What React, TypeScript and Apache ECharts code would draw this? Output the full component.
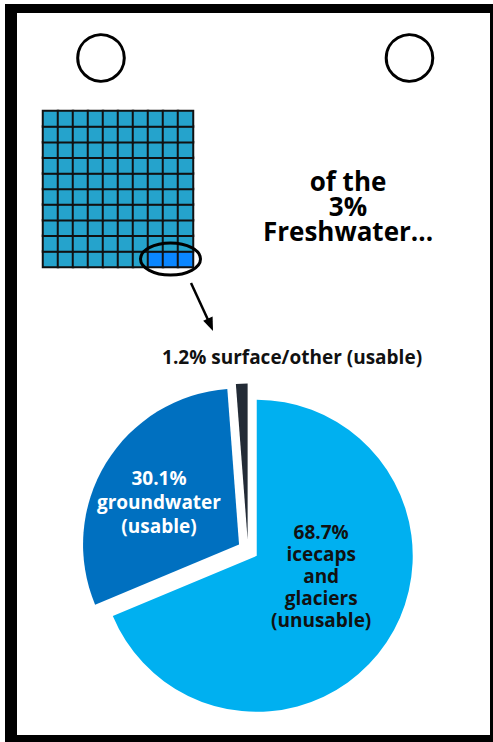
import React, { useEffect, useRef } from "react";
import * as echarts from "echarts";

// ---- data ----
const sliceNames = ["icecaps and glaciers (unusable)", "groundwater (usable)", "surface/other (usable)"];
const sliceValues = [68.7, 30.1, 1.2];
const sliceLabelLines = ["icecaps\nand\nglaciers\n(unusable)", "groundwater\n(usable)", "surface/other (usable)"];
const sliceColors = ["#00B0F0", "#0070C0", "#232B36"];
const sliceLabelColors = ["#111111", "#FFFFFF", "#111111"];

const waffleCols = [0, 1, 2, 3, 4, 5, 6, 7, 8, 9];
const waffleRows = [0, 1, 2, 3, 4, 5, 6, 7, 8, 9];
const freshwaterCells = [
  [7, 0],
  [8, 0],
  [9, 0],
];

const titleLines = ["of the", "3%", "Freshwater..."];

const FONT = "'Open Sans', 'DejaVu Sans', sans-serif";

export default function App() {
  const ref = useRef<HTMLDivElement>(null);

  useEffect(() => {
    document.body.style.margin = "0";
    const chart = echarts.init(ref.current!, undefined, { renderer: "svg" });

    const waffleData: any[] = [];
    waffleRows.forEach((r) => {
      waffleCols.forEach((c) => {
        const isFresh = freshwaterCells.some((p) => p[0] === c && p[1] === r);
        waffleData.push([c, r, isFresh ? 1 : 0]);
      });
    });

    const pieData = sliceValues.map((v, i) => ({
      name: sliceNames[i],
      value: v,
      selected: true,
      itemStyle: { color: sliceColors[i] },
      label: {
        show: true,
        position: "inside",
        color: sliceLabelColors[i],
        formatter: i === 2 ? `${v}% ${sliceLabelLines[i]}` : `${v}%\n${sliceLabelLines[i]}`,
        fontFamily: FONT,
        fontWeight: "bold",
        fontSize: 19,
        lineHeight: i === 0 ? 22 : 24,
      },
    }));

    const option: any = {
      animation: false,
      backgroundColor: "#ffffff",
      grid: { left: 43, top: 111, width: 150, height: 156 },
      xAxis: { type: "category", data: waffleCols.map(String), show: false },
      yAxis: { type: "category", data: waffleRows.map(String), show: false },
      visualMap: {
        show: false,
        type: "piecewise",
        seriesIndex: 0,
        dimension: 2,
        pieces: [
          { value: 0, color: "#25A3CC" },
          { value: 1, color: "#0A86FF" },
        ],
      },
      graphic: [
        { type: "rect", z: -10, shape: { x: 5, y: 4, width: 488, height: 738 }, style: { fill: "#000" } },
        { type: "rect", z: -9, shape: { x: 17, y: 13, width: 473, height: 722 }, style: { fill: "#fff" } },
        { type: "circle", z: 5, shape: { cx: 101, cy: 58, r: 23.3 }, style: { fill: "none", stroke: "#000", lineWidth: 3 } },
        { type: "circle", z: 5, shape: { cx: 409.5, cy: 58, r: 23.3 }, style: { fill: "none", stroke: "#000", lineWidth: 3 } },
        { type: "ellipse", z: 100, shape: { cx: 170.5, cy: 259, rx: 30, ry: 16 }, style: { fill: "none", stroke: "#000", lineWidth: 3 } },
        { type: "line", z: 100, shape: { x1: 191, y1: 283, x2: 209, y2: 322 }, style: { stroke: "#000", lineWidth: 2.5 } },
        {
          type: "polygon",
          z: 100,
          shape: { points: [[213, 331], [212.6, 316.5], [203.2, 320.8]] },
          style: { fill: "#000" },
        },
        {
          type: "text",
          z: 100,
          x: 348,
          y: 206,
          style: {
            text: titleLines.join("\n"),
            fontFamily: FONT,
            fontWeight: "bold",
            fontSize: 26,
            lineHeight: 25,
            fill: "#000",
            align: "center",
            verticalAlign: "middle",
          },
        },
      ],
      series: [
        {
          type: "heatmap",
          data: waffleData,
          itemStyle: { borderColor: "#111", borderWidth: 2 },
          emphasis: { disabled: true },
          silent: true,
        },
        {
          type: "pie",
          center: [248, 550],
          radius: 156,
          startAngle: 90,
          clockwise: true,
          selectedMode: "multiple",
          selectedOffset: 10.5,
          avoidLabelOverlap: false,
          labelLine: { show: false },
          emphasis: { disabled: true },
          silent: true,
          data: pieData,
          labelLayout: (params: any) => {
            if (params.dataIndex === 0) return { dy: -25, dx: -3 };
            if (params.dataIndex === 1) return { dx: -11 };
            return { dx: 47.5, dy: -102 };
          },
        },
      ],
    };

    chart.setOption(option);
    return () => chart.dispose();
  }, []);

  return <div ref={ref} style={{ position: "absolute", left: 0, top: 0, width: 493, height: 742 }} />;
}
